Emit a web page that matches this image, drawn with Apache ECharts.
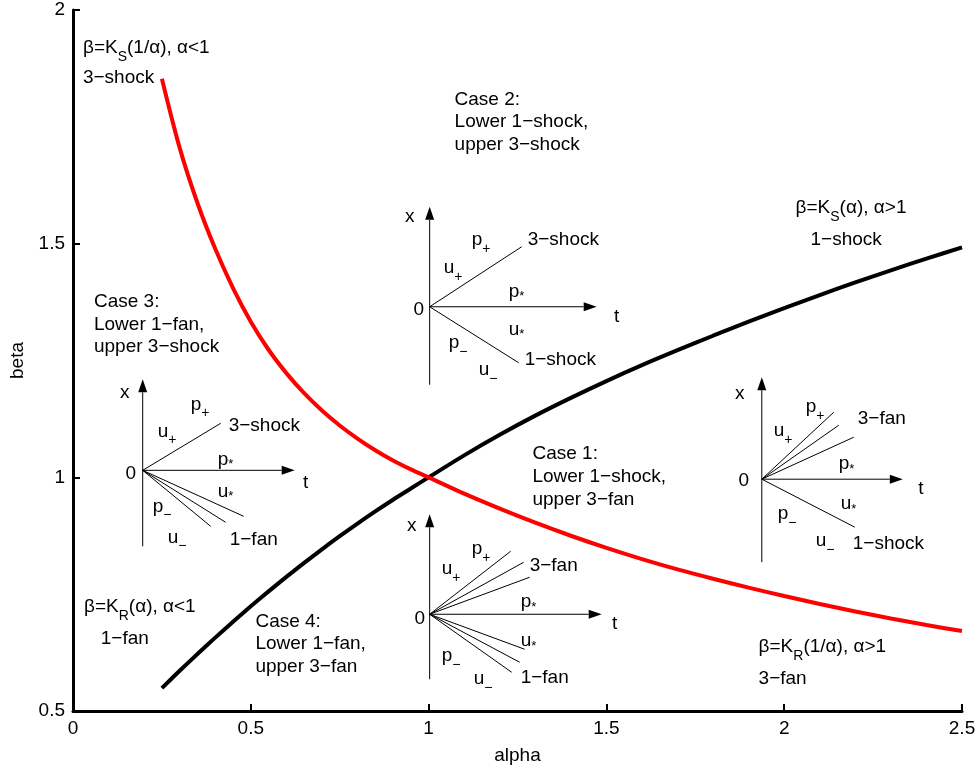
<!DOCTYPE html>
<html>
<head>
<meta charset="utf-8">
<script src="https://cdn.jsdelivr.net/npm/echarts@6/dist/echarts.min.js"></script>
<style>
  html, body { margin: 0; padding: 0; background: #fff; }
  #chart { width: 979px; height: 770px; }
</style>
</head>
<body>
<div id="chart"></div>
<script>
const FONT = '"Liberation Sans", Arial, Helvetica, sans-serif';

// alpha samples below and above 1
const alphaLow  = [0.25, 0.30, 0.35, 0.40, 0.45, 0.50, 0.55, 0.60, 0.65, 0.70, 0.75, 0.80, 0.85, 0.90, 0.95, 1.00];
const alphaHigh = [1.0, 1.1, 1.2, 1.3, 1.4, 1.5, 1.6, 1.7, 1.8, 1.9, 2.0, 2.1, 2.2, 2.3, 2.4, 2.5];

// black boundary: beta = K_R(alpha) for alpha<1 (1-fan), K_S(alpha) for alpha>1 (1-shock)
const betaKR    = [0.549, 0.586, 0.622, 0.657, 0.691, 0.724, 0.756, 0.787, 0.817, 0.846, 0.874, 0.901, 0.927, 0.952, 0.976, 1.000];
const betaKS    = [1.000, 1.047, 1.091, 1.132, 1.170, 1.206, 1.240, 1.272, 1.303, 1.333, 1.362, 1.390, 1.417, 1.443, 1.468, 1.492];

// red boundary: beta = K_S(1/alpha) for alpha<1 (3-shock), K_R(1/alpha) for alpha>1 (3-fan)
const betaKSinv = [1.853, 1.705, 1.587, 1.489, 1.405, 1.333, 1.273, 1.223, 1.180, 1.143, 1.111, 1.083, 1.058, 1.036, 1.017, 1.000];
const betaKRinv = [1.000, 0.965, 0.933, 0.903, 0.875, 0.849, 0.825, 0.803, 0.783, 0.764, 0.746, 0.729, 0.713, 0.698, 0.684, 0.671];

const xTickLabels = ['0', '0.5', '1', '1.5', '2', '2.5'];
const yTickLabels = ['0.5', '1', '1.5', '2'];

const blackCurve = alphaLow.map((a, i) => [a, betaKR[i]]).concat(alphaHigh.slice(1).map((a, i) => [a, betaKS[i + 1]]));
const redCurve   = alphaLow.map((a, i) => [a, betaKSinv[i]]).concat(alphaHigh.slice(1).map((a, i) => [a, betaKRinv[i + 1]]));

// region annotations: anchor (alpha, beta) is the left edge / vertical middle of each line
const notes = [
  { at: [0.028, 1.919], text: 'β=K_{S}(1/α), α<1' },
  { at: [0.028, 1.855], text: '3−shock' },
  { at: [1.073, 1.808], text: 'Case 2:' },
  { at: [1.073, 1.761], text: 'Lower 1−shock,' },
  { at: [1.073, 1.712], text: 'upper 3−shock' },
  { at: [2.032, 1.577], text: 'β=K_{S}(α), α>1' },
  { at: [2.074, 1.509], text: '1−shock' },
  { at: [0.059, 1.376], text: 'Case 3:' },
  { at: [0.059, 1.327], text: 'Lower 1−fan,' },
  { at: [0.059, 1.280], text: 'upper 3−shock' },
  { at: [1.292, 1.051], text: 'Case 1:' },
  { at: [1.292, 1.002], text: 'Lower 1−shock,' },
  { at: [1.292, 0.953], text: 'upper 3−fan' },
  { at: [0.031, 0.722], text: 'β=K_{R}(α), α<1' },
  { at: [0.078, 0.654], text: '1−fan' },
  { at: [0.513, 0.692], text: 'Case 4:' },
  { at: [0.513, 0.643], text: 'Lower 1−fan,' },
  { at: [0.513, 0.594], text: 'upper 3−fan' },
  { at: [1.928, 0.637], text: 'β=K_{R}(1/α), α>1' },
  { at: [1.928, 0.568], text: '3−fan' }
];

// x–t wave diagrams: origin in (alpha, beta), everything else in pixel offsets from it
const diagrams = [
  { // Case 2
    origin: [1.003, 1.365], top: -100, bottom: 78, tip: 167,
    rays: [[92, -60], [89, 56]],
    labels: [
      [-20, -90, 'x', 'center'], [-11, 3, '0', 'center'], [187, 10, 't', 'center'],
      [42, -67, 'p_{+}'], [14, -39, 'u_{+}'], [79, -15, 'p_{*}'], [79, 23, 'u_{*}'],
      [19, 36, 'p_{−}'], [49, 63, 'u_{−}'], [98, -67, '3−shock'], [95, 53, '1−shock']
    ]
  },
  { // Case 3
    origin: [0.196, 1.015], top: -91, bottom: 76, tip: 152,
    rays: [[78, -47], [101, 46], [83, 52], [68, 56]],
    labels: [
      [-18, -78, 'x', 'center'], [-12, 3, '0', 'center'], [163, 12, 't', 'center'],
      [48, -66, 'p_{+}'], [15, -39, 'u_{+}'], [75, -11, 'p_{*}'], [75, 21, 'u_{*}'],
      [10, 36, 'p_{−}'], [25, 67, 'u_{−}'], [86, -45, '3−shock'], [87, 69, '1−fan']
    ]
  },
  { // Case 4
    origin: [1.003, 0.707], top: -100, bottom: 65, tip: 172,
    rays: [[81, -63], [94, -52], [100, -37], [95, 35], [90, 48], [82, 58]],
    labels: [
      [-18, -88, 'x', 'center'], [-10, 5, '0', 'center'], [185, 10, 't', 'center'],
      [42, -65, 'p_{+}'], [12, -45, 'u_{+}'], [91, -12, 'p_{*}'], [91, 27, 'u_{*}'],
      [12, 42, 'p_{−}'], [44, 65, 'u_{−}'], [100, -48, '3−fan'], [91, 64, '1−fan']
    ]
  },
  { // Case 1
    origin: [1.937, 0.996], top: -102, bottom: 83, tip: 141,
    rays: [[72, -67], [77, -54], [92, -42], [93, 48]],
    labels: [
      [-22, -85, 'x', 'center'], [-18, 2, '0', 'center'], [159, 10, 't', 'center'],
      [44, -72, 'p_{+}'], [12, -48, 'u_{+}'], [77, -15, 'p_{*}'], [79, 25, 'u_{*}'],
      [16, 35, 'p_{−}'], [54, 62, 'u_{−}'], [96, -60, '3−fan'], [91, 65, '1−shock']
    ]
  }
];

const MAIN_SIZE = 19;
const measureCtx = document.createElement('canvas').getContext('2d');
function textWidth(s, size) {
  measureCtx.font = size + 'px ' + FONT;
  return measureCtx.measureText(s).width;
}
function pieces(str) {
  const out = [];
  const re = /_\{([^}]*)\}/g;
  let last = 0, m;
  while ((m = re.exec(str))) {
    if (m.index > last) out.push({ t: str.slice(last, m.index), sub: false });
    out.push({ t: m[1], sub: true });
    last = re.lastIndex;
  }
  if (last < str.length) out.push({ t: str.slice(last), sub: false });
  return out;
}
// a line of text with lowered subscripts, laid out piece by piece
function textRun(str, x, y, align) {
  const parts = pieces(str).map(p => {
    const star = p.sub && p.t === '*';
    const size = p.sub ? (star ? 13 : 14) : MAIN_SIZE;
    const dy = p.sub ? (star ? 5 : 9) : 0;
    return { t: p.t, size, dy, w: textWidth(p.t, size) };
  });
  const total = parts.reduce((s, p) => s + p.w, 0);
  let cx = align === 'center' ? x - total / 2 : x;
  return parts.map(p => {
    const el = {
      type: 'text', x: cx, y: y + p.dy, silent: true,
      style: { text: p.t, fontSize: p.size, fontFamily: FONT, fill: '#000', align: 'left', verticalAlign: 'middle' }
    };
    cx += p.w;
    return el;
  });
}

const ARROW_LEN = 13, ARROW_HALF = 4.5;
function renderDiagram(params, api) {
  const d = diagrams[params.dataIndex];
  const o = api.coord([api.value(0), api.value(1)]);
  const thin = { stroke: '#000', lineWidth: 1 };
  const children = [
    { type: 'line', shape: { x1: 0, y1: d.bottom, x2: 0, y2: d.top + ARROW_LEN }, style: thin },
    { type: 'polygon', shape: { points: [[0, d.top], [-ARROW_HALF, d.top + ARROW_LEN], [ARROW_HALF, d.top + ARROW_LEN]] }, style: { fill: '#000' } },
    { type: 'line', shape: { x1: 0, y1: 0, x2: d.tip - ARROW_LEN, y2: 0 }, style: thin },
    { type: 'polygon', shape: { points: [[d.tip, 0], [d.tip - ARROW_LEN, -ARROW_HALF], [d.tip - ARROW_LEN, ARROW_HALF]] }, style: { fill: '#000' } }
  ];
  d.rays.forEach(r => children.push({ type: 'line', shape: { x1: 0, y1: 0, x2: r[0], y2: r[1] }, style: thin }));
  d.labels.forEach(l => textRun(l[2], l[0], l[1], l[3] || 'left').forEach(el => children.push(el)));
  return { type: 'group', x: o[0], y: o[1], children };
}
function renderNote(params, api) {
  const n = notes[params.dataIndex];
  const p = api.coord([api.value(0), api.value(1)]);
  return { type: 'group', x: p[0], y: p[1], children: textRun(n.text, 0, 0, 'left') };
}

const axisBase = {
  type: 'value',
  axisLine: { show: true, onZero: false, lineStyle: { color: '#000', width: 3 } },
  axisTick: { show: true, inside: true, length: 7, lineStyle: { color: '#000', width: 2 } },
  axisLabel: { color: '#000', fontSize: 19, fontFamily: FONT, margin: 8 },
  splitLine: { show: false },
  nameLocation: 'middle',
  nameTextStyle: { color: '#000', fontSize: 19, fontFamily: FONT }
};

const chart = echarts.init(document.getElementById('chart'), null, { renderer: 'canvas' });
chart.setOption({
  animation: false,
  backgroundColor: '#fff',
  grid: { left: 70, right: 17, top: 10, bottom: 58, containLabel: false },
  xAxis: Object.assign({}, axisBase, {
    min: 0, max: 2.5, interval: 0.5, name: 'alpha', nameGap: 35,
    axisLabel: Object.assign({}, axisBase.axisLabel, { formatter: v => xTickLabels[Math.round(v / 0.5)] })
  }),
  yAxis: Object.assign({}, axisBase, {
    min: 0.5, max: 2, interval: 0.5, name: 'beta', nameGap: 46,
    axisLabel: Object.assign({}, axisBase.axisLabel, { formatter: v => yTickLabels[Math.round(v / 0.5) - 1] })
  }),
  series: [
    {
      name: 'K_R / K_S', type: 'line', data: blackCurve, smooth: 0.3, symbol: 'none', silent: true, z: 3,
      lineStyle: { color: '#000', width: 4 }
    },
    {
      name: 'K_S(1/α) / K_R(1/α)', type: 'line', data: redCurve, smooth: 0.3, symbol: 'none', silent: true, z: 3,
      lineStyle: { color: '#ff0000', width: 4 }
    },
    {
      type: 'custom', renderItem: renderDiagram, data: diagrams.map(d => d.origin), silent: true, z: 4,
      encode: { x: 0, y: 1 }
    },
    {
      type: 'custom', renderItem: renderNote, data: notes.map(n => n.at), silent: true, z: 4,
      encode: { x: 0, y: 1 }
    }
  ]
});
</script>
</body>
</html>
